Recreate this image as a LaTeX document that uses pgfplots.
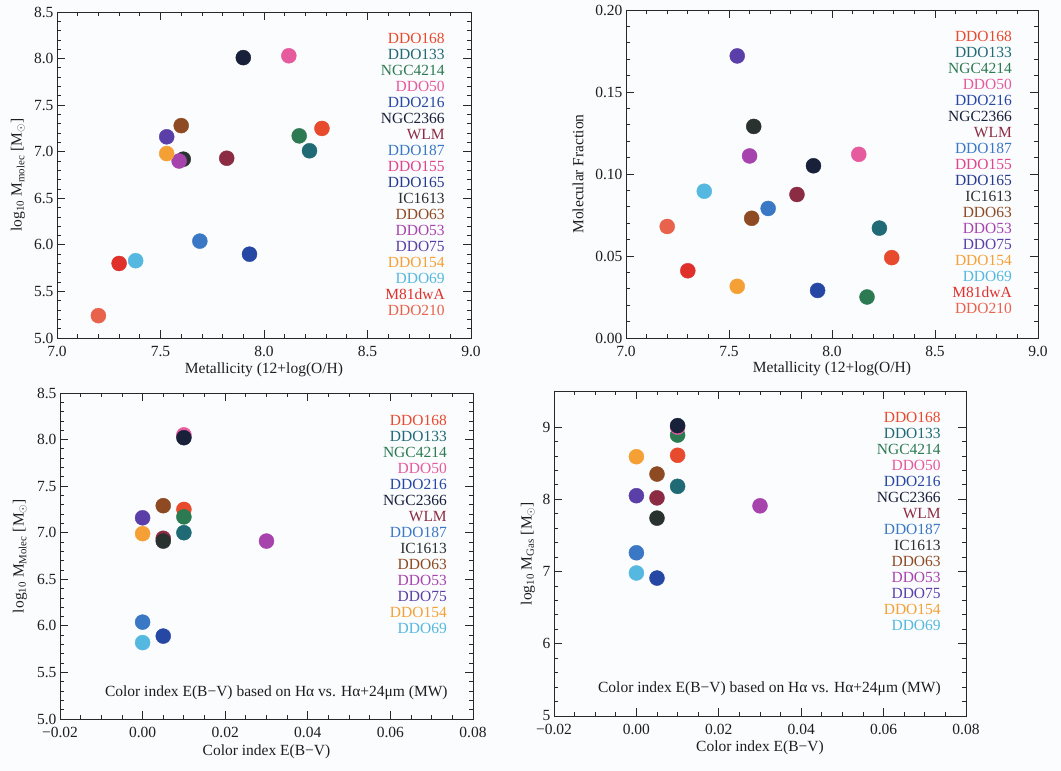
\documentclass[border=0pt]{standalone}
\usepackage{fontspec}
\setmainfont{Liberation Serif}
\usepackage{pgfplots}
\pgfplotsset{compat=1.18}

\definecolor{bgc}{RGB}{251,252,253}
\definecolor{axc}{RGB}{40,40,40}
\definecolor{txc}{RGB}{30,30,30}
\definecolor{cA}{HTML}{E84A2E}% DDO168
\definecolor{cB}{HTML}{1F6A75}% DDO133
\definecolor{cC}{HTML}{2B7A52}% NGC4214
\definecolor{cD}{HTML}{E65A9E}% DDO50
\definecolor{cE}{HTML}{2747A5}% DDO216
\definecolor{cF}{HTML}{18203A}% NGC2366
\definecolor{cG}{HTML}{8C2C44}% WLM
\definecolor{cH}{HTML}{3A78C6}% DDO187
\definecolor{cI}{HTML}{E0448C}% DDO155
\definecolor{cJ}{HTML}{263A8E}% DDO165
\definecolor{cK}{HTML}{2A322F}% IC1613
\definecolor{cL}{HTML}{8E4A22}% DDO63
\definecolor{cM}{HTML}{A743AD}% DDO53
\definecolor{cN}{HTML}{5B3FA8}% DDO75
\definecolor{cO}{HTML}{F5A035}% DDO154
\definecolor{cP}{HTML}{55B8E0}% DDO69
\definecolor{cQ}{HTML}{E0302C}% M81dwA
\definecolor{cR}{HTML}{E8624C}% DDO210

\newcommand{\fs}{\fontsize{15.5}{16}\selectfont}
\newcommand{\pt}[3]{\addplot[only marks, mark=*, mark size=7.5pt, color=#1, mark options={fill=#1, draw=#1}] coordinates {(#2,#3)};}

\pgfplotsset{idl/.style={
  scale only axis,
  scaled x ticks=false, scaled y ticks=false,
  axis line style={line width=0.9pt, draw=axc},
  tick align=inside,
  major tick length=8pt, minor tick length=4pt,
  every tick/.append style={line width=0.8pt, draw=axc},
  tick label style={font=\fs, text=txc},
  xticklabel style={yshift=-5pt},
  every axis x label/.style={anchor=center, font=\fs, text=txc},
  every axis y label/.style={anchor=center, rotate=90, font=\fs, text=txc},
}}

\newcommand{\legfull}{%
\textcolor{cA}{DDO168}\\\textcolor{cB}{DDO133}\\\textcolor{cC}{NGC4214}\\\textcolor{cD}{DDO50}\\\textcolor{cE}{DDO216}\\\textcolor{cF}{NGC2366}\\\textcolor{cG}{WLM}\\\textcolor{cH}{DDO187}\\\textcolor{cI}{DDO155}\\\textcolor{cJ}{DDO165}\\\textcolor{cK}{IC1613}\\\textcolor{cL}{DDO63}\\\textcolor{cM}{DDO53}\\\textcolor{cN}{DDO75}\\\textcolor{cO}{DDO154}\\\textcolor{cP}{DDO69}\\\textcolor{cQ}{M81dwA}\\\textcolor{cR}{DDO210}}
\newcommand{\legshort}{%
\textcolor{cA}{DDO168}\\\textcolor{cB}{DDO133}\\\textcolor{cC}{NGC4214}\\\textcolor{cD}{DDO50}\\\textcolor{cE}{DDO216}\\\textcolor{cF}{NGC2366}\\\textcolor{cG}{WLM}\\\textcolor{cH}{DDO187}\\\textcolor{cK}{IC1613}\\\textcolor{cL}{DDO63}\\\textcolor{cM}{DDO53}\\\textcolor{cN}{DDO75}\\\textcolor{cO}{DDO154}\\\textcolor{cP}{DDO69}}
\newcommand{\Msun}{M\textsubscript{\(\odot\)}}

\begin{document}
\begin{tikzpicture}
\path[use as bounding box, fill=bgc] (0,0) rectangle (1061pt,771pt);

% ---------- Panel 1 ----------
\begin{axis}[idl, at={(57pt,433pt)}, anchor=south west, width=414pt, height=326pt,
  xmin=7, xmax=9, ymin=5, ymax=8.5,
  xtick={7,7.5,8,8.5,9}, xticklabels={7.0,7.5,8.0,8.5,9.0},
  ytick={5,5.5,6,6.5,7,7.5,8,8.5}, yticklabels={5.0,5.5,6.0,6.5,7.0,7.5,8.0,8.5},
  minor x tick num=4, minor y tick num=4,
  xlabel={Metallicity (12+log(O/H)},
  ylabel={log\textsubscript{10} M\textsubscript{molec} [\Msun]},
  xlabel style={at={(axis description cs:0.5,-0.0982)}},
  ylabel style={at={(axis description cs:-0.0942,0.5)}}]
\pt{cA}{8.28}{7.25}
\pt{cB}{8.22}{7.01}
\pt{cC}{8.17}{7.17}
\pt{cD}{8.12}{8.03}
\pt{cE}{7.93}{5.90}
\pt{cF}{7.90}{8.01}
\pt{cG}{7.82}{6.93}
\pt{cH}{7.69}{6.04}
\pt{cK}{7.61}{6.92}
\pt{cL}{7.60}{7.28}
\pt{cM}{7.59}{6.90}
\pt{cN}{7.53}{7.16}
\pt{cO}{7.53}{6.98}
\pt{cP}{7.38}{5.83}
\pt{cQ}{7.30}{5.80}
\pt{cR}{7.20}{5.24}
\node[anchor=north east, align=right, inner sep=0pt, font=\fs] at (rel axis cs:0.937,0.9356) {\legfull};
\end{axis}

% ---------- Panel 2 ----------
\begin{axis}[idl, at={(626pt,433pt)}, anchor=south west, width=412pt, height=328pt,
  xmin=7, xmax=9, ymin=0, ymax=0.2,
  xtick={7,7.5,8,8.5,9}, xticklabels={7.0,7.5,8.0,8.5,9.0},
  ytick={0,0.05,0.1,0.15,0.2}, yticklabels={0.00,0.05,0.10,0.15,0.20},
  minor x tick num=4, minor y tick num=4,
  xlabel={Metallicity (12+log(O/H)},
  ylabel={Molecular Fraction},
  xlabel style={at={(axis description cs:0.5,-0.0945)}},
  ylabel style={at={(axis description cs:-0.1165,0.5)}}]
\pt{cA}{8.29}{0.049}
\pt{cB}{8.23}{0.067}
\pt{cC}{8.17}{0.025}
\pt{cD}{8.13}{0.112}
\pt{cE}{7.93}{0.029}
\pt{cF}{7.91}{0.105}
\pt{cG}{7.83}{0.0875}
\pt{cH}{7.69}{0.079}
\pt{cK}{7.62}{0.129}
\pt{cL}{7.61}{0.073}
\pt{cM}{7.60}{0.111}
\pt{cN}{7.54}{0.172}
\pt{cO}{7.54}{0.0315}
\pt{cP}{7.38}{0.0895}
\pt{cQ}{7.30}{0.041}
\pt{cR}{7.20}{0.068}
\node[anchor=north east, align=right, inner sep=0pt, font=\fs] at (rel axis cs:0.937,0.936) {\legfull};
\end{axis}

% ---------- Panel 3 ----------
\begin{axis}[idl, at={(60pt,52pt)}, anchor=south west, width=413pt, height=326pt,
  xmin=-0.02, xmax=0.08, ymin=5, ymax=8.5,
  xtick={-0.02,0,0.02,0.04,0.06,0.08}, xticklabels={−0.02,0.00,0.02,0.04,0.06,0.08},
  ytick={5,5.5,6,6.5,7,7.5,8,8.5}, yticklabels={5.0,5.5,6.0,6.5,7.0,7.5,8.0,8.5},
  minor x tick num=3, minor y tick num=4,
  xlabel={Color index E(B−V)},
  ylabel={log\textsubscript{10} M\textsubscript{Molec} [\Msun]},
  xlabel style={at={(axis description cs:0.5,-0.1012)}},
  ylabel style={at={(axis description cs:-0.0969,0.5)}}]
\pt{cA}{0.010}{7.25}
\pt{cB}{0.010}{7.00}
\pt{cC}{0.010}{7.17}
\pt{cD}{0.010}{8.05}
\pt{cE}{0.005}{5.89}
\pt{cF}{0.010}{8.02}
\pt{cG}{0.005}{6.94}
\pt{cH}{0.000}{6.04}
\pt{cK}{0.005}{6.91}
\pt{cL}{0.005}{7.29}
\pt{cM}{0.030}{6.91}
\pt{cN}{0.000}{7.16}
\pt{cO}{0.000}{6.99}
\pt{cP}{0.000}{5.82}
\node[anchor=north east, align=right, inner sep=0pt, font=\fs] at (rel axis cs:0.937,0.9325) {\legshort};
\node[anchor=base east, inner sep=0pt, font=\fs, text=txc] at (rel axis cs:0.939,0.0675) {Color index E(B−V) based on Hα vs. Hα+24μm (MW)};
\end{axis}

% ---------- Panel 4 ----------
\begin{axis}[idl, at={(554pt,55pt)}, anchor=south west, width=412pt, height=325pt,
  xmin=-0.02, xmax=0.08, ymin=5, ymax=9.5,
  xtick={-0.02,0,0.02,0.04,0.06,0.08}, xticklabels={−0.02,0.00,0.02,0.04,0.06,0.08},
  ytick={5,6,7,8,9}, yticklabels={5,6,7,8,9},
  minor x tick num=3, minor y tick num=4,
  xlabel={Color index E(B−V)},
  ylabel={log\textsubscript{10} M\textsubscript{Gas} [\Msun]},
  xlabel style={at={(axis description cs:0.5,-0.0985)}},
  ylabel style={at={(axis description cs:-0.0631,0.5)}}]
\pt{cA}{0.010}{8.61}
\pt{cB}{0.010}{8.18}
\pt{cC}{0.010}{8.89}
\pt{cD}{0.010}{9.00}
\pt{cE}{0.005}{6.91}
\pt{cF}{0.010}{9.02}
\pt{cG}{0.005}{8.02}
\pt{cH}{0.000}{7.26}
\pt{cK}{0.005}{7.74}
\pt{cL}{0.005}{8.35}
\pt{cM}{0.030}{7.91}
\pt{cN}{0.000}{8.05}
\pt{cO}{0.000}{8.59}
\pt{cP}{0.000}{6.98}
\node[anchor=north east, align=right, inner sep=0pt, font=\fs] at (rel axis cs:0.939,0.935) {\legshort};
\node[anchor=base east, inner sep=0pt, font=\fs, text=txc] at (rel axis cs:0.939,0.0708) {Color index E(B−V) based on Hα vs. Hα+24μm (MW)};
\end{axis}
\end{tikzpicture}
\end{document}
